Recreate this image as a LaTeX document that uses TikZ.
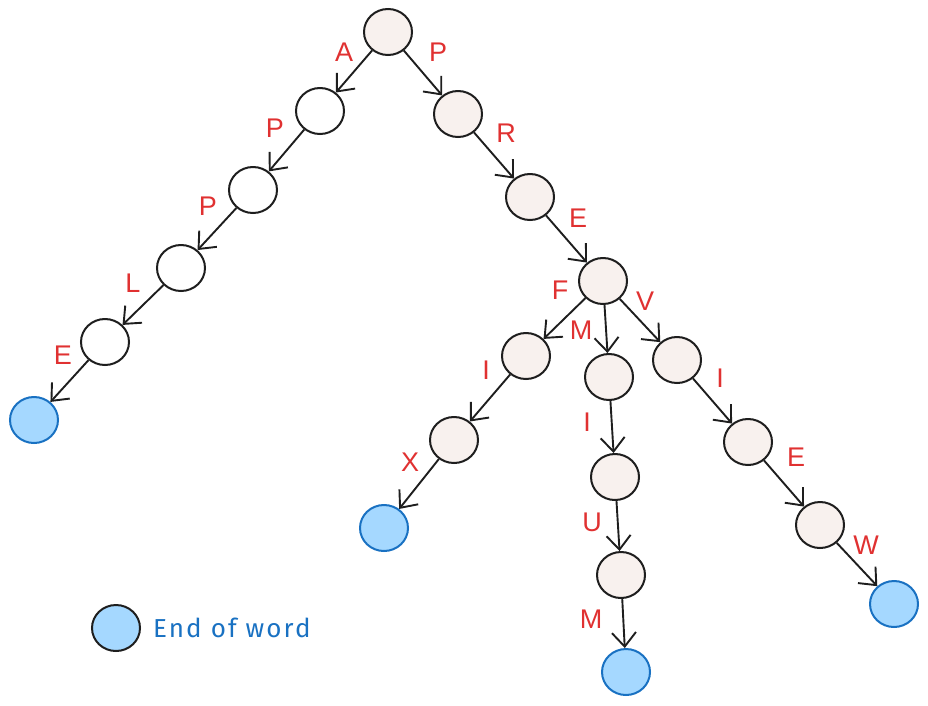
\documentclass[tikz,border=0pt]{standalone}
\usepackage{fontspec}
\setmainfont{Liberation Sans}
\newfontfamily\legendfont[LetterSpace=8]{Fira Sans}
\usetikzlibrary{shapes.geometric,arrows.meta}
\definecolor{pinkfill}{HTML}{F8F1EE}
\definecolor{bluefill}{HTML}{A5D8FF}
\definecolor{blueline}{HTML}{1971C2}
\definecolor{labelred}{HTML}{E03131}
\definecolor{ink}{HTML}{1E1E1E}
\tikzset{
  trienode/.style={ellipse,draw=ink,line width=2pt,minimum width=48pt,minimum height=46pt,inner sep=0pt},
  plain/.style={trienode,fill=white},
  pink/.style={trienode,fill=pinkfill},
  endw/.style={trienode,fill=bluefill,draw=blueline},
  legendnode/.style={trienode,fill=bluefill},
  edge/.style={draw=ink,line width=1.9pt,-{Straight Barb[length=14pt,width=24pt,line width=1.9pt]}},
  lbl/.style={text=labelred,font=\fontsize{27}{30}\selectfont,inner sep=0pt}
}
\begin{document}
\begin{tikzpicture}[x=1pt,y=-1pt]
\useasboundingbox (0,0) rectangle (928,705);
% nodes
\node[pink] (root) at (388,32) {};
\node[plain] (a1) at (320,111) {};
\node[plain] (a2) at (253,190) {};
\node[plain] (a3) at (181,268) {};
\node[plain] (a4) at (105,342) {};
\node[endw] (a5) at (34,420) {};
\node[pink] (p1) at (458,114) {};
\node[pink] (r1) at (530,197) {};
\node[pink] (e1) at (603,281) {};
\node[pink] (f1) at (526,356) {};
\node[pink] (m1) at (609,377) {};
\node[pink] (v1) at (677,360) {};
\node[pink] (f2) at (454,440) {};
\node[endw] (f3) at (384,528) {};
\node[pink] (m2) at (615,477) {};
\node[pink] (m3) at (621,575) {};
\node[endw] (m4) at (626,672) {};
\node[pink] (v2) at (748,442) {};
\node[pink] (v3) at (820,525) {};
\node[endw] (v4) at (894,604) {};
% edges
\draw[edge] (root) -- (a1);
\draw[edge] (a1) -- (a2);
\draw[edge] (a2) -- (a3);
\draw[edge] (a3) -- (a4);
\draw[edge] (a4) -- (a5);
\draw[edge] (root) -- (p1);
\draw[edge] (p1) -- (r1);
\draw[edge] (r1) -- (e1);
\draw[edge] (e1) -- (f1);
\draw[edge] (e1) -- (m1);
\draw[edge] (e1) -- (v1);
\draw[edge] (f1) -- (f2);
\draw[edge] (f2) -- (f3);
\draw[edge] (m1) -- (m2);
\draw[edge] (m2) -- (m3);
\draw[edge] (m3) -- (m4);
\draw[edge] (v1) -- (v2);
\draw[edge] (v2) -- (v3);
\draw[edge] (v3) -- (v4);
% labels
\node[lbl] (lA) at (344,52) {A};
\node[lbl] (lP1) at (438,52) {P};
\node[lbl] (lP2) at (275,128) {P};
\node[lbl] (lR) at (506,133) {R};
\node[lbl] (lP3) at (208,206) {P};
\node[lbl] (lE1) at (578,218) {E};
\node[lbl] (lL) at (133,283) {L};
\node[lbl] (lF) at (560,290) {F};
\node[lbl] (lV) at (645,301) {V};
\node[lbl] (lM1) at (581,330) {M};
\node[lbl] (lE2) at (63,355) {E};
\node[lbl] (lI1) at (486,370) {I};
\node[lbl] (lI2) at (720,378) {I};
\node[lbl] (lI3) at (587,422) {I};
\node[lbl] (lX) at (410,462) {X};
\node[lbl] (lE3) at (796,457) {E};
\node[lbl] (lU) at (592,522) {U};
\node[lbl] (lW) at (866,545) {W};
\node[lbl] (lM2) at (591,619) {M};
% legend
\node[legendnode] (leg) at (116,628) {};
\node[anchor=west,text=blueline,inner sep=0pt,font=\legendfont\fontsize{26}{30}\selectfont] (legtext) at (153,628) {End of word};
\end{tikzpicture}
\end{document}
